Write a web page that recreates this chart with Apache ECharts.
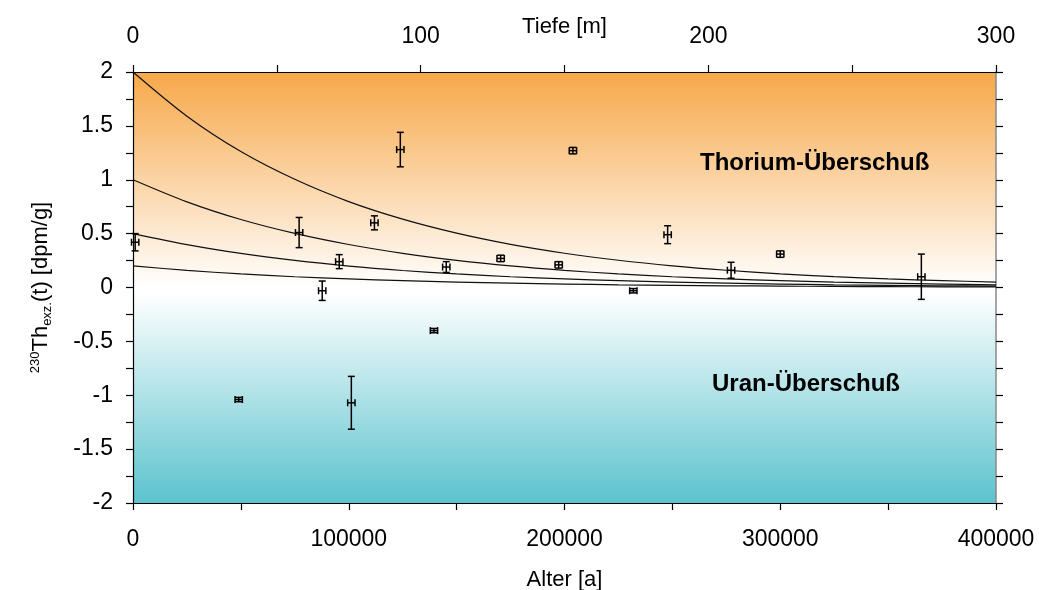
<!DOCTYPE html>
<html>
<head>
<meta charset="utf-8">
<script src="https://cdn.jsdelivr.net/npm/echarts@6/dist/echarts.min.js"></script>
<style>
  html, body { margin: 0; padding: 0; background: #fff; }
  #chart { width: 1039px; height: 590px; }
</style>
</head>
<body>
<div id="chart"></div>
<script>
// Measured samples: age [a], excess 230Th [dpm/g] with 1-sigma errors
const ages      = [1000, 49000, 77000, 87700, 95600, 101200, 111900, 123900, 139500, 145200, 170400, 197300, 203900, 231900, 247800, 277200, 300000, 365400];
const values    = [0.42, -1.04, 0.51, -0.03, 0.24, -1.07, 0.60, 1.28, -0.40, 0.19, 0.27, 0.21, 1.27, -0.03, 0.49, 0.16, 0.31, 0.10];
const errValues = [0.08, 0.02, 0.14, 0.09, 0.065, 0.245, 0.065, 0.16, 0.02, 0.05, 0.03, 0.03, 0.03, 0.02, 0.083, 0.074, 0.03, 0.21];
const errAges   = [1700, 1700, 1700, 1700, 1700, 1700, 1700, 1700, 1700, 1700, 1700, 1700, 1700, 1700, 1700, 1700, 1700, 1700];

// Decay curves for different initial excess activities
const curveAges = [0, 25000, 50000, 75000, 100000, 125000, 150000, 175000, 200000, 225000, 250000, 275000, 300000, 325000, 350000, 375000, 400000];
const curve20   = [2.000, 1.590, 1.262, 1.004, 0.797, 0.634, 0.504, 0.400, 0.318, 0.253, 0.201, 0.160, 0.127, 0.101, 0.080, 0.064, 0.050];
const curve10   = [1.000, 0.795, 0.631, 0.502, 0.399, 0.317, 0.252, 0.200, 0.159, 0.126, 0.100, 0.080, 0.064, 0.050, 0.040, 0.032, 0.025];
const curve05   = [0.500, 0.398, 0.316, 0.251, 0.199, 0.158, 0.126, 0.100, 0.080, 0.063, 0.050, 0.040, 0.032, 0.025, 0.020, 0.016, 0.013];
const curve02   = [0.200, 0.159, 0.126, 0.100, 0.080, 0.063, 0.050, 0.040, 0.032, 0.025, 0.020, 0.016, 0.013, 0.010, 0.008, 0.006, 0.005];

// Tick labels
const ageTicks   = ['0', '100000', '200000', '300000', '400000'];
const depthTicks = ['0', '100', '200', '300'];
const valueTicks = ['-2', '-1.5', '-1', '-0.5', '0', '0.5', '1', '1.5', '2'];

const FONT = "'Liberation Sans', Arial, sans-serif";
const chart = echarts.init(document.getElementById('chart'));

function curveSeries(vals) {
  return {
    type: 'line',
    xAxisIndex: 0, yAxisIndex: 0,
    data: curveAges.map((a, i) => [a, vals[i]]),
    smooth: 0.3,
    showSymbol: false,
    silent: true,
    lineStyle: { color: '#111', width: 1.2 },
    z: 3
  };
}

const errData = ages.map((a, i) => [a, values[i], errAges[i], errValues[i]]);

function renderErr(params, api) {
  const t = api.value(0), v = api.value(1), ex = api.value(2), ey = api.value(3);
  const pL = api.coord([t - ex, v]);
  const pR = api.coord([t + ex, v]);
  const pT = api.coord([t, v + ey]);
  const pB = api.coord([t, v - ey]);
  const cap = 3.5;
  const style = { stroke: '#000', lineWidth: 1.5, fill: null };
  const line = (x1, y1, x2, y2) => ({ type: 'line', shape: { x1, y1, x2, y2 }, style });
  return {
    type: 'group',
    children: [
      line(pT[0], pT[1], pB[0], pB[1]),
      line(pT[0] - cap, pT[1], pT[0] + cap, pT[1]),
      line(pB[0] - cap, pB[1], pB[0] + cap, pB[1]),
      line(pL[0], pL[1], pR[0], pR[1]),
      line(pL[0], pL[1] - cap, pL[0], pL[1] + cap),
      line(pR[0], pR[1] - cap, pR[0], pR[1] + cap)
    ]
  };
}

const tickStyle = { show: true, inside: false, length: 7, lineStyle: { color: '#000', width: 1.2 } };

chart.setOption({
  animation: false,
  grid: {
    left: 133, right: 43, top: 72, bottom: 87,
    outerBoundsMode: 'none',
    containLabel: false,
    show: true,
    borderWidth: 0,
    backgroundColor: {
      type: 'linear', x: 0, y: 0, x2: 0, y2: 1,
      colorStops: [
        { offset: 0, color: '#F7A84A' },
        { offset: 0.5, color: '#FFFFFF' },
        { offset: 0.515, color: '#FFFFFF' },
        { offset: 1, color: '#5BC3CE' }
      ]
    }
  },
  xAxis: [
    {
      type: 'value', position: 'bottom', min: 0, max: 400000, interval: 50000,
      name: 'Alter [a]', nameLocation: 'middle', nameGap: 66, nameMoveOverlap: false,
      nameTextStyle: { fontFamily: FONT, fontSize: 22, color: '#000' },
      axisLine: { show: true, onZero: false, lineStyle: { color: '#000', width: 1.2 } },
      axisTick: tickStyle,
      splitLine: { show: false },
      axisLabel: {
        margin: 25, fontFamily: FONT, fontSize: 23, color: '#000',
        formatter: v => (v % 100000 === 0 ? ageTicks[v / 100000] : '')
      }
    },
    {
      type: 'value', position: 'top', min: 0, max: 300, interval: 50,
      name: 'Tiefe [m]', nameLocation: 'middle', nameGap: 34, nameMoveOverlap: false,
      nameTextStyle: { fontFamily: FONT, fontSize: 22, color: '#000' },
      axisLine: { show: true, onZero: false, lineStyle: { color: '#000', width: 1.2 } },
      axisTick: tickStyle,
      splitLine: { show: false },
      axisLabel: {
        margin: 24, fontFamily: FONT, fontSize: 23, color: '#000',
        formatter: v => (v % 100 === 0 ? depthTicks[v / 100] : '')
      }
    }
  ],
  yAxis: [
    {
      type: 'value', position: 'left', min: -2, max: 2, interval: 0.25,
      name: '{sup|230}{main|Th}{sub|exz.}{main|(t) [dpm/g]}',
      nameLocation: 'middle', nameRotate: 90, nameGap: 78, nameMoveOverlap: false,
      nameTextStyle: {
        fontFamily: FONT, color: '#000',
        rich: {
          main: { fontFamily: FONT, fontSize: 22, color: '#000', lineHeight: 28, verticalAlign: 'middle' },
          sup:  { fontFamily: FONT, fontSize: 13, color: '#000', lineHeight: 28, verticalAlign: 'top', padding: [2, 0, 0, 0] },
          sub:  { fontFamily: FONT, fontSize: 13, color: '#000', lineHeight: 28, verticalAlign: 'bottom', padding: [0, 0, 1, 0] }
        }
      },
      axisLine: { show: true, onZero: false, lineStyle: { color: '#000', width: 1.2 } },
      axisTick: tickStyle,
      splitLine: { show: false },
      axisLabel: {
        margin: 20, fontFamily: FONT, fontSize: 23, color: '#000',
        formatter: v => {
          const k = Math.round(v * 4);
          return k % 2 === 0 ? valueTicks[k / 2 + 4] : '';
        }
      }
    },
    {
      type: 'value', position: 'right', min: -2, max: 2, interval: 0.25,
      axisLine: { show: true, onZero: false, lineStyle: { color: '#888', width: 1.5 } },
      axisTick: { show: true, inside: false, length: 7, lineStyle: { color: '#000', width: 1.2 } },
      axisLabel: { show: false },
      splitLine: { show: false }
    }
  ],
  series: [
    curveSeries(curve20),
    curveSeries(curve10),
    curveSeries(curve05),
    curveSeries(curve02),
    {
      type: 'custom',
      xAxisIndex: 0, yAxisIndex: 0,
      renderItem: renderErr,
      data: errData,
      z: 5,
      silent: true
    }
  ],
  graphic: [
    {
      type: 'text', left: 700, top: 151, z: 10,
      style: { text: 'Thorium-Überschuß', fontFamily: FONT, fontSize: 24, fontWeight: 'bold', fill: '#000' }
    },
    {
      type: 'text', left: 712, top: 372, z: 10,
      style: { text: 'Uran-Überschuß', fontFamily: FONT, fontSize: 24, fontWeight: 'bold', fill: '#000' }
    }
  ]
});
</script>
</body>
</html>
